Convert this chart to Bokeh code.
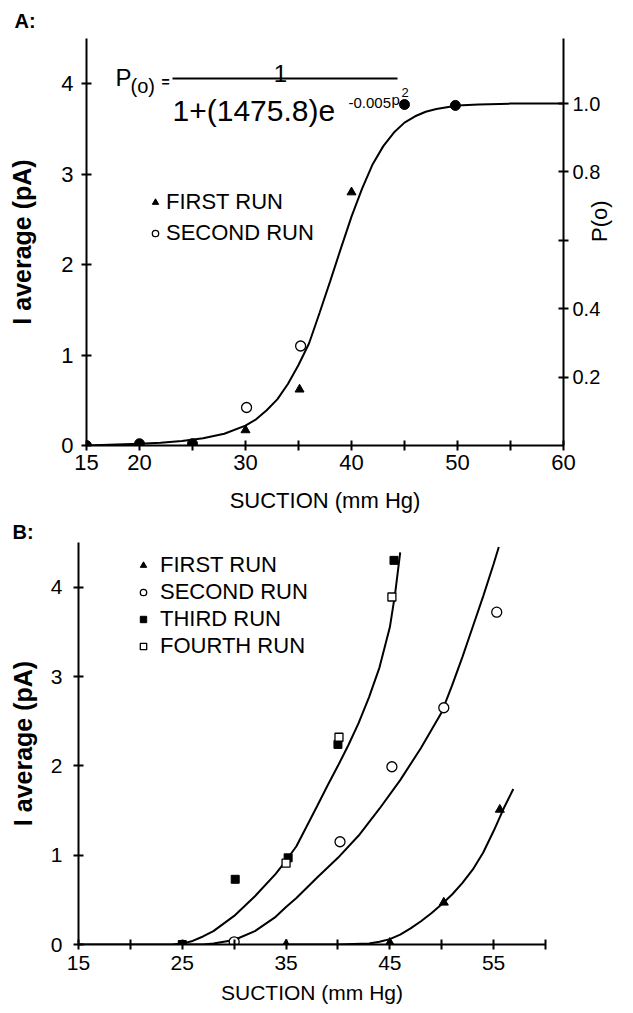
import math
from bokeh.plotting import figure
from bokeh.models import (Range1d, LinearAxis, FixedTicker, Label, Legend,
                          LegendItem, Title)
from bokeh.embed import file_html
from bokeh.resources import INLINE

FONT = "Liberation Sans"

# ---------------- data ----------------
suction_ticks = [15, 20, 25, 30, 35, 40, 45, 50, 55, 60]
a_tick_labels = ["15", "20", "", "30", "", "40", "", "50", "", "60"]
b_tick_labels = ["15", "", "25", "", "35", "", "45", "", "55", ""]
current_ticks = [0, 1, 2, 3, 4]
p_ticks = [0.2, 0.4, 0.6, 0.8, 1.0]
p_tick_labels = ["0.2", "0.4", "", "0.8", "1.0"]
i_at_p1 = 3.78   # current (pA) corresponding to P(o) = 1

# Panel A
a_first_x = [30.0, 35.1, 40.0]
a_first_y = [0.17, 0.62, 2.80]
a_second_x = [30.1, 35.2]
a_second_y = [0.42, 1.10]
a_both_x = [15.0, 20.0, 25.0, 45.0, 49.8]
a_both_y = [0.0, 0.02, 0.02, 3.77, 3.76]
a_fit_x = [15, 20, 22, 24, 26, 28, 30, 31, 32, 33, 34, 35, 36, 37, 38, 39, 40,
           41, 42, 43, 44, 45, 46, 47, 48, 50, 52, 55, 60]
a_fit_y = [0.0, 0.02, 0.03, 0.05, 0.08, 0.13, 0.22, 0.29, 0.39, 0.51, 0.68, 0.89,
           1.13, 1.47, 1.82, 2.18, 2.53, 2.84, 3.11, 3.31, 3.46, 3.57, 3.64, 3.69,
           3.72, 3.76, 3.77, 3.78, 3.78]

# Panel B
b_first_x = [35.0, 45.0, 50.2, 55.6]
b_first_y = [0.0, 0.02, 0.47, 1.51]
b_second_x = [30.0, 40.2, 45.2, 50.2, 55.3]
b_second_y = [0.03, 1.15, 1.99, 2.65, 3.72]
b_third_x = [25.0, 30.1, 35.2, 40.0, 45.4]
b_third_y = [0.0, 0.73, 0.97, 2.24, 4.30]
b_fourth_x = [35.0, 40.1, 45.2]
b_fourth_y = [0.91, 2.32, 3.89]

b_fit34_x = [15, 20, 24, 25, 26, 27, 28, 30, 32, 34, 35, 36, 38, 39, 40, 41, 42,
             43, 44, 45, 45.5, 46]
b_fit34_y = [0.0, 0.0, 0.0, 0.01, 0.04, 0.09, 0.15, 0.32, 0.54, 0.79, 0.94, 1.1,
             1.55, 1.78, 2.0, 2.23, 2.48, 2.77, 3.1, 3.55, 3.92, 4.39]
b_fit2_x = [25, 27, 28, 30, 32, 34, 35, 36, 38, 40, 42, 44, 46, 48, 50, 51, 52,
            53, 54, 55, 55.5]
b_fit2_y = [0.0, 0.0, 0.01, 0.05, 0.15, 0.31, 0.42, 0.52, 0.75, 0.97, 1.22, 1.52,
            1.84, 2.2, 2.6, 2.9, 3.22, 3.56, 3.9, 4.26, 4.45]
b_fit1_x = [35, 40, 43, 44, 45, 46, 47, 48, 49, 50, 51, 52, 53, 54, 55, 56, 56.9]
b_fit1_y = [0.0, 0.0, 0.01, 0.03, 0.06, 0.11, 0.18, 0.26, 0.35, 0.45, 0.56, 0.69,
            0.84, 1.03, 1.27, 1.53, 1.74]

# ---------------- layout constants (page pixels) ----------------
W = 633
A_H = 518
A_LEFT, A_RIGHT, A_FTOP, A_FBOT, A_YMAX = 86, 563, 38, 445, 4.5
B_TOP_PAGE = A_H
B_H = 1013 - A_H
B_LEFT, B_RIGHT, B_FTOP, B_FBOT, B_YMAX = 78, 545, 540, 944, 4.5


def ax_(px):
    return 15 + (px - A_LEFT) * 45.0 / (A_RIGHT - A_LEFT)


def ay_(py):
    return (A_FBOT - py) * A_YMAX / (A_FBOT - A_FTOP)


def lab(p, text, x, y, size, align="left", baseline="alphabetic", style="normal"):
    p.add_layout(Label(x=x, y=y, text=text, text_font=FONT,
                       text_font_size=f"{size}px", text_align=align,
                       text_baseline=baseline, text_font_style=style,
                       text_color="black"))


def style_axis(ax, size=21):
    ax.axis_line_width = 2
    ax.axis_line_color = "black"
    ax.major_tick_line_width = 2
    ax.major_tick_line_color = "black"
    ax.major_tick_in = 5
    ax.major_tick_out = 5
    ax.minor_tick_line_color = None
    ax.major_label_text_font = FONT
    ax.major_label_text_font_size = f"{size}px"
    ax.major_label_text_color = "black"
    ax.axis_label_text_font = FONT
    ax.axis_label_text_font_style = "normal"
    ax.axis_label_text_color = "black"


def base_fig(h, left, right, ftop, fbot, top_page, ymax):
    p = figure(width=W, height=h, x_range=Range1d(15, 60),
               y_range=Range1d(0, ymax), output_backend="svg",
               toolbar_location=None,
               min_border_left=left, min_border_right=W - right,
               min_border_top=ftop - top_page,
               min_border_bottom=top_page + h - fbot)
    p.grid.visible = False
    p.outline_line_color = None
    p.background_fill_color = "white"
    p.border_fill_color = "white"
    return p


def panel_title(p, text, offset, standoff):
    p.add_layout(Title(text=text, align="left", offset=offset, standoff=standoff,
                       text_font=FONT, text_font_size="20px",
                       text_font_style="bold", text_color="black"), "above")


# ---------------- Panel A ----------------
pA = base_fig(A_H, A_LEFT, A_RIGHT, A_FTOP, A_FBOT, 0, A_YMAX)
panel_title(pA, "A:", -(A_LEFT - 14), 13)

xa = pA.xaxis[0]
xa.ticker = FixedTicker(ticks=suction_ticks, minor_ticks=[])
xa.major_label_overrides = {t: l for t, l in zip(suction_ticks, a_tick_labels)}
style_axis(xa, 22)
xa.major_label_standoff = 4
xa.axis_label = "SUCTION (mm Hg)"
xa.axis_label_text_font_size = "22px"
xa.axis_label_standoff = 15

ya = pA.yaxis[0]
ya.ticker = FixedTicker(ticks=current_ticks, minor_ticks=[])
style_axis(ya, 22)
ya.major_label_standoff = 8
ya.axis_label = "I average (pA)"
ya.axis_label_text_font_size = "25px"
ya.axis_label_text_font_style = "bold"
ya.axis_label_standoff = 22

pA.extra_y_ranges = {"p": Range1d(0, A_YMAX / i_at_p1)}
ra = LinearAxis(y_range_name="p", ticker=FixedTicker(ticks=p_ticks, minor_ticks=[]))
ra.major_label_overrides = {t: l for t, l in zip(p_ticks, p_tick_labels)}
style_axis(ra, 20)
ra.major_label_standoff = 4
ra.axis_label = "P(o)"
ra.axis_label_text_font_size = "22px"
ra.axis_label_standoff = -4
try:
    ra.axis_label_orientation = math.pi / 2
except Exception:
    pass
pA.add_layout(ra, "right")

pA.line(a_fit_x, a_fit_y, line_width=2, color="black")
rA1 = pA.scatter(a_first_x, a_first_y, marker="triangle", size=9,
                 fill_color="black", line_color="black")
rA2 = pA.scatter(a_second_x, a_second_y, marker="circle", size=10,
                 fill_color="white", line_color="black", line_width=1.3)
pA.scatter(a_both_x, a_both_y, marker="circle", size=10,
           fill_color="black", line_color="black")

legA = Legend(items=[LegendItem(label="FIRST RUN", renderers=[rA1]),
                     LegendItem(label="SECOND RUN", renderers=[rA2])],
              location=(61, 199), label_text_font=FONT,
              label_text_font_size="22px", label_text_color="black",
              glyph_width=16, glyph_height=24, label_height=24,
              label_standoff=3, spacing=5, padding=0, margin=0,
              border_line_alpha=0, background_fill_alpha=0)
pA.add_layout(legA)

# equation
lab(pA, "P", ax_(115), ay_(77), 24)
lab(pA, "(o)", ax_(130), ay_(85), 20)
lab(pA, "=", ax_(161), ay_(81), 14, style="bold")
pA.segment(x0=[ax_(172)], y0=[ay_(78)], x1=[ax_(397)], y1=[ay_(78)],
           line_width=2, color="black")
lab(pA, "1", ax_(280), ay_(73), 24, align="center")
lab(pA, "1+(1475.8)e", ax_(172), ay_(110), 30)
lab(pA, "-0.005", ax_(348), ay_(102), 15)
lab(pA, "p", ax_(391), ay_(99), 15)
lab(pA, "2", ax_(401), ay_(92), 13)

# ---------------- Panel B ----------------
pB = base_fig(B_H, B_LEFT, B_RIGHT, B_FTOP, B_FBOT, B_TOP_PAGE, B_YMAX)
panel_title(pB, "B:", -(B_LEFT - 12), 0)

xb = pB.xaxis[0]
xb.ticker = FixedTicker(ticks=suction_ticks, minor_ticks=[])
xb.major_label_overrides = {t: l for t, l in zip(suction_ticks, b_tick_labels)}
style_axis(xb, 21)
xb.major_label_standoff = 6
xb.axis_label = "SUCTION (mm Hg)"
xb.axis_label_text_font_size = "21px"
xb.axis_label_standoff = 8

yb = pB.yaxis[0]
yb.ticker = FixedTicker(ticks=current_ticks, minor_ticks=[])
style_axis(yb, 21)
yb.major_label_standoff = 11
yb.axis_label = "I average (pA)"
yb.axis_label_text_font_size = "25px"
yb.axis_label_text_font_style = "bold"
yb.axis_label_standoff = 11

pB.line(b_fit34_x, b_fit34_y, line_width=2, color="black")
pB.line(b_fit2_x, b_fit2_y, line_width=2, color="black")
pB.line(b_fit1_x, b_fit1_y, line_width=2, color="black")
rB1 = pB.scatter(b_first_x, b_first_y, marker="triangle", size=9,
                 fill_color="black", line_color="black")
rB2 = pB.scatter(b_second_x, b_second_y, marker="circle", size=10,
                 fill_color="white", line_color="black", line_width=1.3)
rB3 = pB.scatter(b_third_x, b_third_y, marker="square", size=8,
                 fill_color="black", line_color="black")
rB4 = pB.scatter(b_fourth_x, b_fourth_y, marker="square", size=8,
                 fill_color="white", line_color="black", line_width=1.3)

legB = Legend(items=[LegendItem(label="FIRST RUN", renderers=[rB1]),
                     LegendItem(label="SECOND RUN", renderers=[rB2]),
                     LegendItem(label="THIRD RUN", renderers=[rB3]),
                     LegendItem(label="FOURTH RUN", renderers=[rB4])],
              location=(57, 285), label_text_font=FONT,
              label_text_font_size="22px", label_text_color="black",
              glyph_width=16, glyph_height=22, label_height=22,
              label_standoff=9, spacing=1, padding=0, margin=0,
              border_line_alpha=0, background_fill_alpha=0)
pB.add_layout(legB)

open("out.html", "w").write(file_html([pA, pB], INLINE))
